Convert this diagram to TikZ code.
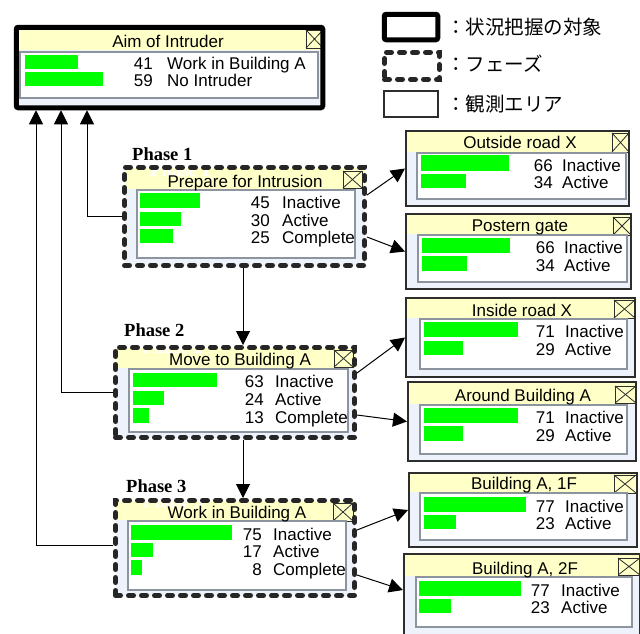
\documentclass[tikz,border=0pt]{standalone}
\usepackage{fontspec}
\setmainfont{Liberation Sans}
\newfontfamily\cjkfont{Noto Sans CJK JP}
\newfontfamily\serifbold{Liberation Serif Bold}
\usetikzlibrary{arrows.meta}
\definecolor{titleyellow}{RGB}{255,255,200}
\definecolor{bodyblue}{RGB}{238,242,250}
\definecolor{panelgray}{RGB}{140,148,160}
\definecolor{framegray}{RGB}{45,45,45}
\definecolor{barg}{RGB}{0,255,0}
\tikzset{
  aimframe/.style={draw=black, line width=5pt, rounded corners=2pt, inner sep=0pt},
  phaseframe/.style={draw=black!85, line width=5pt, dash pattern=on 5pt off 8pt, line cap=round, inner sep=0pt},
  obsframe/.style={draw=framegray, line width=1.6pt, inner sep=0pt},
  titlebar/.style={fill=titleyellow},
  bodyfill/.style={fill=bodyblue},
  panel/.style={draw=panelgray, line width=1.4pt, fill=white},
  bar/.style={fill=barg},
  txt/.style={inner sep=0pt, font=\fontsize{17}{17}\selectfont},
  num/.style={txt, anchor=base east},
  lab/.style={txt, anchor=base west},
  ttl/.style={txt, anchor=base},
  phl/.style={anchor=base west, inner sep=0pt, font=\serifbold\fontsize{18.5}{18.5}\selectfont},
  ghost/.style={phl, text=white},
  conn/.style={draw=black, line width=1pt, -{Triangle[length=14pt,width=14pt]}},
  closebox/.style={draw=framegray, line width=1pt, fill=titleyellow},
  legtxt/.style={anchor=west, inner sep=0pt, font=\cjkfont\fontsize{19.5}{19.5}\selectfont},
}
\newcommand\clbox[4]{\draw[closebox] (#1,#2) rectangle (#3,#4);
  \draw[framegray, line width=0.8pt] (#1,#2) -- (#3,#4) (#1,#4) -- (#3,#2);}
\begin{document}
\begin{tikzpicture}[x=1pt,y=-1pt]
\fill[white] (0,0) rectangle (640,633);
\useasboundingbox (0,0) rectangle (640,633);

% ---------------- Legend
\node[aimframe, minimum width=53.5pt, minimum height=25.5pt] (lg1) at (411,27) {};
\node[phaseframe, minimum width=55pt, minimum height=27pt] (lg2) at (412,66) {};
\node[obsframe, minimum width=54.5pt, minimum height=26.5pt] (lg3) at (411,104) {};
\node[legtxt] (lt1) at (446,27) {：状況把握の対象};
\node[legtxt] (lt2) at (446,64) {：フェーズ};
\node[legtxt] (lt3) at (446,104) {：観測エリア};

% ---------------- Aim of Intruder
\fill[bodyfill] (16,27) rectangle (323,108);
\fill[titlebar] (16,27) rectangle (323,50);
\clbox{306}{30}{323}{48}
\draw[panel] (20,52) rectangle (318,98);
\fill[bar] (25,55) rectangle (78,69);
\fill[bar] (25,72) rectangle (103,86);
\node[ttl] (aimt) at (168,47) {Aim of Intruder};
\node[num] (aimn1) at (153,69) {41};
\node[lab] (aiml1) at (167,69) {Work in Building A};
\node[num] (aimn2) at (153,86) {59};
\node[lab] (aiml2) at (167,86) {No Intruder};
\node[aimframe, minimum width=306.5pt, minimum height=80.5pt] (aim) at (169.5,67.5) {};

% ---------------- Phase 1
\node[phl] (ph1) at (132,160) {Phase 1};
\fill[bodyfill] (124.5,167.5) rectangle (364.5,265.5);
\fill[titlebar] (124.5,167.5) rectangle (364.5,189);
\node[ghost] (gh1) at (150,176) {Phase 1};
\clbox{343}{171}{362}{188}
\draw[panel] (137,190) rectangle (355,258);
\fill[bar] (140,193) rectangle (200,208);
\fill[bar] (140,212) rectangle (181,226);
\fill[bar] (140,229) rectangle (173,243);
\node[ttl] (p1t) at (245,187) {Prepare for Intrusion};
\node[num] (p1n1) at (270,208) {45};
\node[lab] (p1l1) at (282,208) {Inactive};
\node[num] (p1n2) at (270,226) {30};
\node[lab] (p1l2) at (282,226) {Active};
\node[num] (p1n3) at (270,243) {25};
\node[lab] (p1l3) at (282,243) {Complete};
\node[phaseframe, minimum width=240pt, minimum height=98pt] (p1) at (244.5,216.5) {};

% ---------------- Phase 2
\node[phl] (ph2) at (124,336) {Phase 2};
\fill[bodyfill] (115.5,347.5) rectangle (354.5,437.5);
\fill[titlebar] (115.5,347.5) rectangle (354.5,368);
\node[ghost] (gh2) at (142,353) {Phase 2};
\clbox{334}{350}{353}{367}
\draw[panel] (129,369) rectangle (348,432);
\fill[bar] (133,373) rectangle (217,387);
\fill[bar] (133,391) rectangle (164,405);
\fill[bar] (133,408) rectangle (149,423);
\node[ttl] (p2t) at (240,365) {Move to Building A};
\node[num] (p2n1) at (264,387) {63};
\node[lab] (p2l1) at (275,387) {Inactive};
\node[num] (p2n2) at (264,405) {24};
\node[lab] (p2l2) at (275,405) {Active};
\node[num] (p2n3) at (264,423) {13};
\node[lab] (p2l3) at (275,423) {Complete};
\node[phaseframe, minimum width=239pt, minimum height=90pt] (p2) at (235,392.5) {};

% ---------------- Phase 3
\node[phl] (ph3) at (126,492) {Phase 3};
\fill[bodyfill] (115.5,500.5) rectangle (354.5,595.5);
\fill[titlebar] (115.5,500.5) rectangle (354.5,520);
\node[ghost] (gh3) at (143,507) {Phase 3};
\clbox{333}{503}{353}{521}
\draw[panel] (128,521) rectangle (346,590);
\fill[bar] (131,525) rectangle (232,540);
\fill[bar] (131,543) rectangle (153,557);
\fill[bar] (131,560) rectangle (142,575);
\node[ttl] (p3t) at (237,518) {Work in Building A};
\node[num] (p3n1) at (262,540) {75};
\node[lab] (p3l1) at (273,540) {Inactive};
\node[num] (p3n2) at (262,557) {17};
\node[lab] (p3l2) at (273,557) {Active};
\node[num] (p3n3) at (262,575) {8};
\node[lab] (p3l3) at (273,575) {Complete};
\node[phaseframe, minimum width=239pt, minimum height=95pt] (p3) at (235,548) {};

% ---------------- Outside road X
\fill[bodyfill] (405,130) rectangle (630,207);
\fill[titlebar] (405,130) rectangle (630,152);
\clbox{612}{133}{629}{152}
\draw[panel] (417,153) rectangle (626,199);
\fill[bar] (421,155) rectangle (509,171);
\fill[bar] (421,174) rectangle (466,188);
\node[ttl] (o1t) at (520,148) {Outside road X};
\node[num] (o1n1) at (553,171) {66};
\node[lab] (o1l1) at (562,171) {Inactive};
\node[num] (o1n2) at (553,188) {34};
\node[lab] (o1l2) at (562,188) {Active};
\node[obsframe, minimum width=223.4pt, minimum height=75.4pt] (o1) at (517.5,168.5) {};

% ---------------- Postern gate
\fill[bodyfill] (405,213) rectangle (632,290);
\fill[titlebar] (405,213) rectangle (632,234);
\clbox{613}{217}{631}{235}
\draw[panel] (418,235) rectangle (627,282);
\fill[bar] (422,238) rectangle (510,253);
\fill[bar] (422,256) rectangle (467,271);
\node[ttl] (o2t) at (520,231) {Postern gate};
\node[num] (o2n1) at (555,253) {66};
\node[lab] (o2l1) at (564,253) {Inactive};
\node[num] (o2n2) at (555,271) {34};
\node[lab] (o2l2) at (564,271) {Active};
\node[obsframe, minimum width=225.4pt, minimum height=75.4pt] (o2) at (518.5,251.5) {};

% ---------------- Inside road X
\fill[bodyfill] (405,297) rectangle (636,378);
\fill[titlebar] (405,297) rectangle (636,318);
\clbox{614}{300}{635}{318}
\draw[panel] (420,319) rectangle (627,369);
\fill[bar] (424,322) rectangle (518,337);
\fill[bar] (424,341) rectangle (463,355);
\node[ttl] (o3t) at (522,316) {Inside road X};
\node[num] (o3n1) at (555,337) {71};
\node[lab] (o3l1) at (565,337) {Inactive};
\node[num] (o3n2) at (555,355) {29};
\node[lab] (o3l2) at (565,355) {Active};
\node[obsframe, minimum width=229.4pt, minimum height=79.4pt] (o3) at (520.5,337.5) {};

% ---------------- Around Building A
\fill[bodyfill] (407,381) rectangle (637,462);
\fill[titlebar] (407,381) rectangle (637,404);
\clbox{615}{386}{636}{403}
\draw[panel] (420,405) rectangle (627,454);
\fill[bar] (424,408) rectangle (518,423);
\fill[bar] (424,426) rectangle (463,441);
\node[ttl] (o4t) at (523,401) {Around Building A};
\node[num] (o4n1) at (555,423) {71};
\node[lab] (o4l1) at (565,423) {Inactive};
\node[num] (o4n2) at (555,441) {29};
\node[lab] (o4l2) at (565,441) {Active};
\node[obsframe, minimum width=228.4pt, minimum height=79.4pt] (o4) at (522,421.5) {};

% ---------------- Building A, 1F
\fill[bodyfill] (408,472) rectangle (638,548);
\fill[titlebar] (408,472) rectangle (638,492);
\clbox{614}{475}{636}{493}
\draw[panel] (420,493) rectangle (627,540);
\fill[bar] (424,497) rectangle (526,512);
\fill[bar] (424,515) rectangle (456,529);
\node[ttl] (o5t) at (524,489) {Building A, 1F};
\node[num] (o5n1) at (555,512) {77};
\node[lab] (o5l1) at (565,512) {Inactive};
\node[num] (o5n2) at (555,529) {23};
\node[lab] (o5l2) at (565,529) {Active};
\node[obsframe, minimum width=228.4pt, minimum height=74.4pt] (o5) at (523,510) {};

% ---------------- Building A, 2F
\fill[bodyfill] (403,553) rectangle (641,640);
\fill[titlebar] (403,553) rectangle (641,576);
\clbox{618}{558}{640}{575}
\draw[panel] (416,577) rectangle (632,627);
\fill[bar] (419,581) rectangle (521,596);
\fill[bar] (419,599) rectangle (451,613);
\node[ttl] (o6t) at (525,574) {Building A, 2F};
\node[num] (o6n1) at (550,596) {77};
\node[lab] (o6l1) at (561,596) {Inactive};
\node[num] (o6n2) at (550,613) {23};
\node[lab] (o6l2) at (561,613) {Active};
\node[obsframe, minimum width=236.4pt, minimum height=85.4pt] (o6) at (522,596.5) {};

% ---------------- Connectors
\coordinate (vx) at ([xshift=-1.5pt]p1.south);
\coordinate (c1) at (87,0);
\coordinate (c2) at (61,0);
\coordinate (c3) at (36,0);
\draw[conn] ([yshift=21.5pt]p1.east) -- (o1.west);
\draw[conn] ([yshift=-20.5pt]p1.east) -- (o2.west);
\draw[conn] ([yshift=19.5pt]p2.east) -- (o3.west);
\draw[conn] ([yshift=-22.5pt]p2.east) -- (o4.west);
\draw[conn] ([yshift=18pt]p3.east) -- (o5.west);
\draw[conn] ([yshift=-27pt]p3.east) -- ([yshift=6.5pt]o6.west);
\draw[conn] (vx) -- (vx |- p2.north);
\draw[conn] (p2.south -| vx) -- (p3.north -| vx);
\draw[conn] (p1.west) -| (c1 |- aim.south);
\draw[conn] (p2.west) -| (c2 |- aim.south);
\draw[conn] ([yshift=3pt]p3.west) -| (c3 |- aim.south);
\end{tikzpicture}
\end{document}
